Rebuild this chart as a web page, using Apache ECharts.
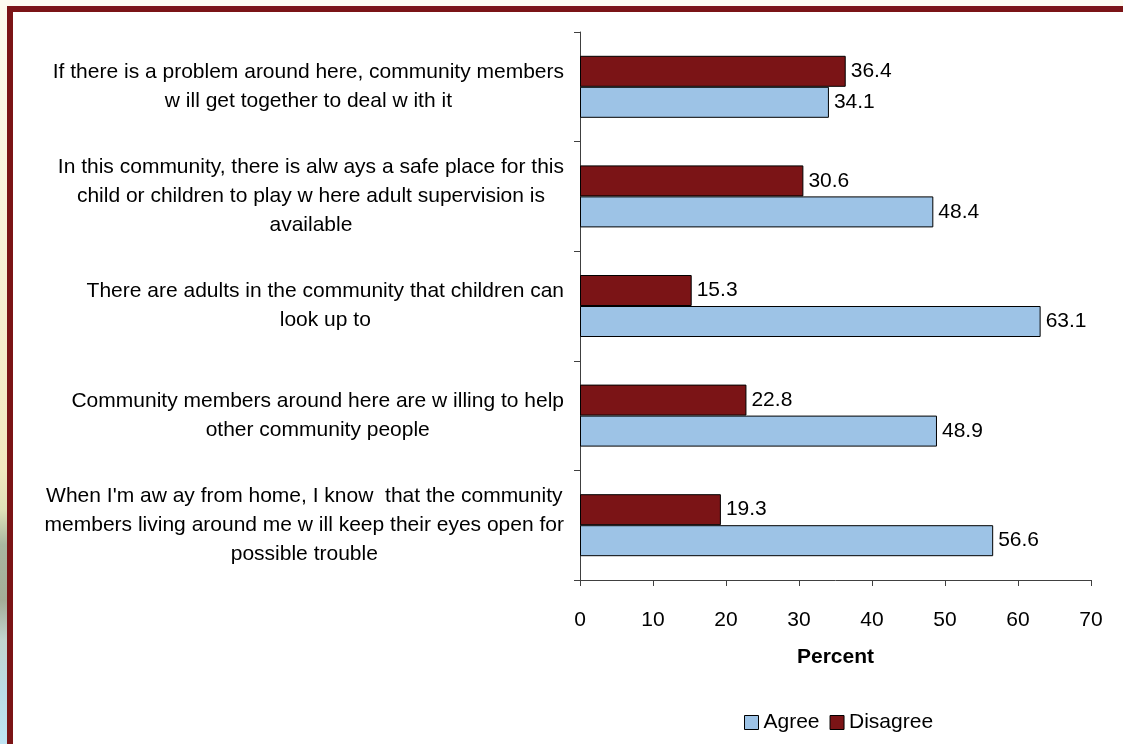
<!DOCTYPE html>
<html>
<head>
<meta charset="utf-8">
<title>Community perceptions</title>
<script src="https://cdn.jsdelivr.net/npm/echarts@6/dist/echarts.min.js"></script>
<style>
  html, body { margin: 0; padding: 0; width: 1123px; height: 744px; overflow: hidden; }
  body {
    position: relative;
    background: linear-gradient(to bottom,
      #fdfbef 0px, #f9f3dc 200px, #f2e8bf 470px, #dfe0b8 510px,
      #a9b6a0 545px, #a4ad97 600px, #c2d5cf 640px, #bbdbe6 690px, #bfe4f3 744px);
  }
  #topband { position: absolute; left: 0; top: 0; width: 1123px; height: 6px; background: #fdfbf0; }
  #frame {
    position: absolute; left: 7px; top: 6px; width: 1200px; height: 800px;
    border-left: 6px solid #7b1416; border-top: 6px solid #7b1416; background: #ffffff;
  }
  #chart { position: absolute; left: 0; top: 0; width: 1123px; height: 744px; }
</style>
</head>
<body>
<div id="topband"></div>
<div id="frame"></div>
<div id="chart"></div>
<script>
// Survey statements, listed top to bottom
const categories = [
  "If there is a problem around here, community members\nw ill get together to deal w ith it",
  "In this community, there is alw ays a safe place for this\nchild or children to play w here adult supervision is\navailable",
  "There are adults in the community that children can\nlook up to",
  "Community members around here are w illing to help\nother community people",
  "When I'm aw ay from home, I know  that the community\nmembers living around me w ill keep their eyes open for\npossible trouble"
];
const agreeValues = [34.1, 48.4, 63.1, 48.9, 56.6];
const disagreeValues = [36.4, 30.6, 15.3, 22.8, 19.3];
const percentTicks = [0, 10, 20, 30, 40, 50, 60, 70];

const FONT = "'Liberation Sans', Arial, sans-serif";
const FS = 21;
const chart = echarts.init(document.getElementById('chart'), null, { renderer: 'canvas' });

const barLabel = {
  show: true,
  position: 'right',
  distance: 5,
  color: '#000',
  fontFamily: FONT,
  fontSize: FS,
  formatter: p => p.value.toFixed(1)
};

chart.setOption({
  animation: false,
  textStyle: { fontFamily: FONT },
  grid: { left: 580, right: 32, top: 32, bottom: 164, containLabel: false },
  legend: {
    data: ['Agree', 'Disagree'],
    left: 739, top: 707,
    icon: 'rect',
    itemWidth: 14, itemHeight: 14, itemGap: 10,
    textStyle: { fontFamily: FONT, fontSize: FS, color: '#000' },
    itemStyle: { borderColor: '#000', borderWidth: 1 }
  },
  xAxis: {
    type: 'value',
    min: percentTicks[0],
    max: percentTicks[percentTicks.length - 1],
    interval: 10,
    name: 'Percent',
    nameLocation: 'middle',
    nameGap: 67,
    nameTextStyle: { fontFamily: FONT, fontSize: FS, fontWeight: 'bold', color: '#000' },
    axisLine: { show: true, lineStyle: { color: '#404040', width: 1 } },
    axisTick: { show: true, length: 6, lineStyle: { color: '#404040' } },
    axisLabel: { margin: 30, fontFamily: FONT, fontSize: FS, color: '#000' },
    splitLine: { show: false }
  },
  yAxis: {
    type: 'category',
    inverse: true,
    data: categories,
    axisLine: { show: true, lineStyle: { color: '#404040', width: 1 } },
    axisTick: { show: true, length: 6, alignWithLabel: false, lineStyle: { color: '#404040' } },
    axisLabel: {
      margin: 16,
      color: '#000',
      fontFamily: FONT,
      fontSize: FS,
      formatter: v => v.split('\n').map(line => '{c|' + line + '}').join('\n'),
      rich: {
        c: { align: 'center', fontFamily: FONT, fontSize: FS, lineHeight: 29, color: '#000' }
      }
    }
  },
  series: [
    {
      name: 'Disagree',
      type: 'bar',
      data: disagreeValues,
      barWidth: 31,
      barGap: '0%',
      itemStyle: { color: '#7b1416', borderColor: '#000', borderWidth: 1 },
      label: barLabel
    },
    {
      name: 'Agree',
      type: 'bar',
      data: agreeValues,
      barWidth: 31,
      barGap: '0%',
      itemStyle: { color: '#9dc3e6', borderColor: '#000', borderWidth: 1 },
      label: barLabel
    }
  ]
});
</script>
</body>
</html>
